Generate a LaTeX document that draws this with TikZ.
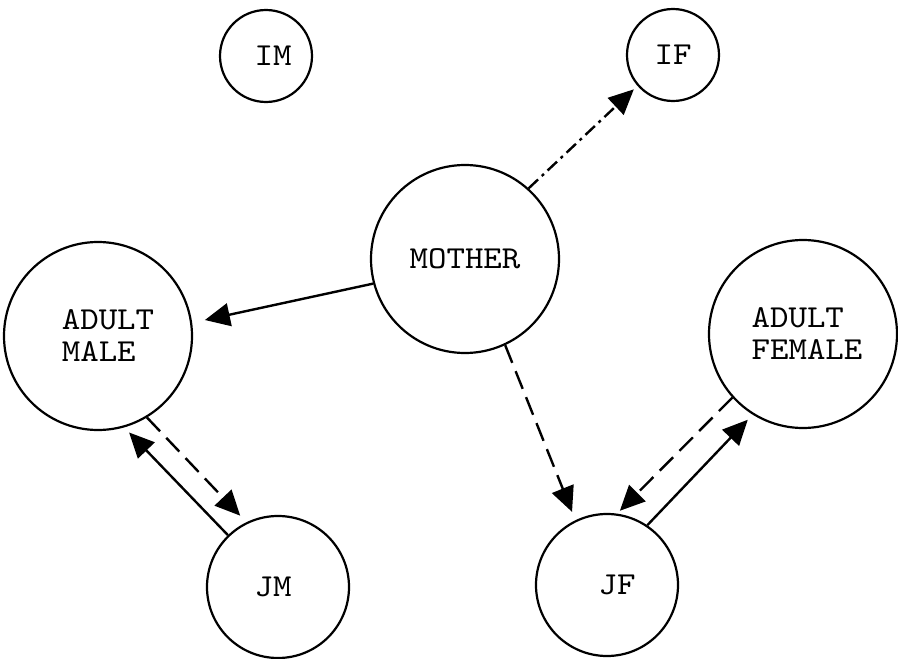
\documentclass[tikz,border=0pt]{standalone}
\usepackage{fontspec}
\setmonofont{lmmono10-regular}[Extension=.otf, FakeStretch=1.1]
\usetikzlibrary{arrows.meta}
\begin{document}
\begin{tikzpicture}[x=1pt,y=-1pt,
  circ/.style={circle, draw, line width=2.2pt, inner sep=0pt, align=left,
    font=\ttfamily\fontsize{32}{32}\selectfont},
  bigc/.style={circ, minimum size=188pt},
  midc/.style={circ, minimum size=142pt},
  smallc/.style={circ, minimum size=92pt},
  conn/.style={line width=2.4pt, -{Triangle[length=25pt,width=23pt]}},
  dashconn/.style={conn, dash pattern=on 19pt off 9pt},
  dashdotconn/.style={conn, dash pattern=on 13pt off 5pt on 3pt off 5pt}]
\useasboundingbox (0,0) rectangle (898,659);
% circles with their texts
\node[smallc] (im) at (266,56) {\hspace*{14pt}IM};
\node[smallc] (if) at (673,55) {IF};
\node[bigc] (mother) at (465,259) {MOTHER};
\node[bigc] (male) at (98,336) {\hspace*{20pt}ADULT\\\hspace*{20pt}MALE};
\node[bigc] (female) at (803,334) {\hspace*{8pt}ADULT\\\hspace*{8pt}FEMALE};
\node[midc] (jm) at (278,587) {JM\hspace*{10pt}};
\node[midc] (jf) at (607,585) {\hspace*{20pt}JF};
% connectors
\draw[dashdotconn, shorten >=5pt] (mother.48) -- (if.221);
\draw[conn, shorten >=13pt] (mother.195) -- (male.8);
\draw[dashconn, shorten >=9pt] (mother.295) -- (jf.116);
\draw[dashconn, shorten >=9pt] (male.301) -- (jm.116);
\draw[conn, shorten >=7pt] (jm.134) -- (male.286);
\draw[dashconn, shorten >=4pt] (female.222) -- (jf.82);
\draw[conn, shorten >=7pt] (jf.56) -- (female.238);
\end{tikzpicture}
\end{document}
